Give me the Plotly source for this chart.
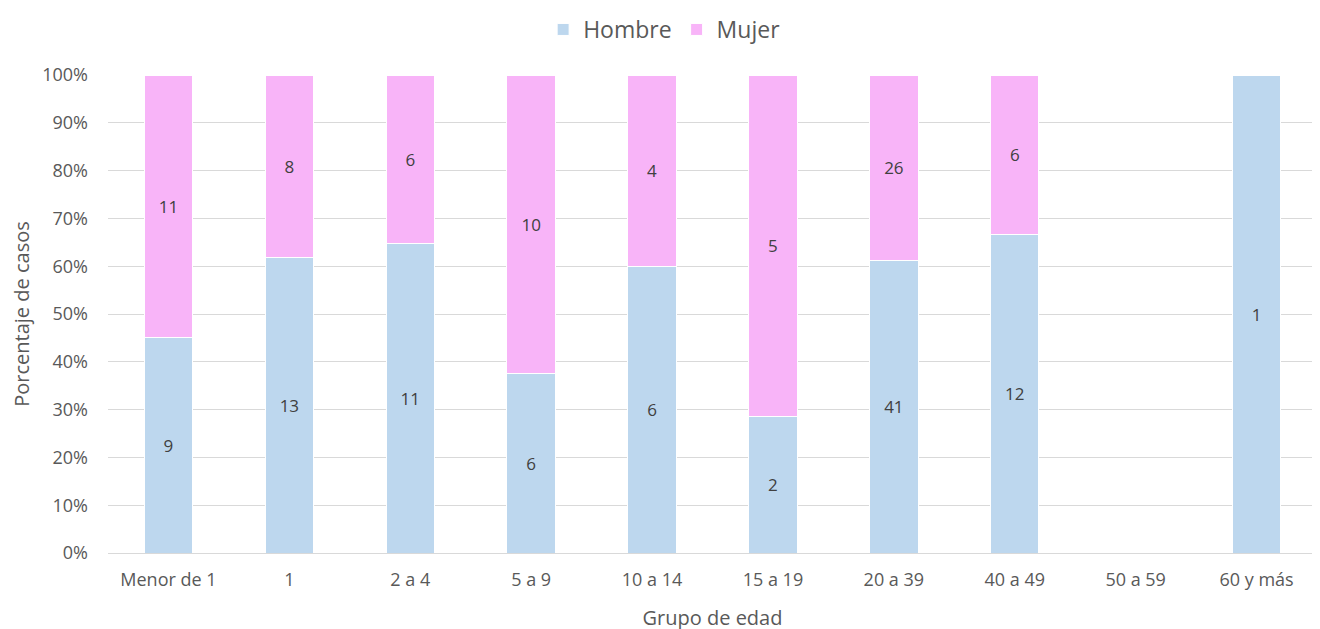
import plotly.graph_objects as go

grupos = ["Menor de 1", "1", "2 a 4", "5 a 9", "10 a 14", "15 a 19",
          "20 a 39", "40 a 49", "50 a 59", "60 y más"]
hombre = [9, 13, 11, 6, 6, 2, 41, 12, 0, 1]
mujer = [11, 8, 6, 10, 4, 5, 26, 6, 0, 0]

FONT = "Open Sans, Lato, sans-serif"
TXT = "#595959"


def labels(vals):
    return [str(v) if v else "" for v in vals]


fig = go.Figure()
for name, vals, color in [("Hombre", hombre, "#BDD7EE"), ("Mujer", mujer, "#F8B4F8")]:
    fig.add_trace(go.Bar(
        x=grupos, y=vals, name=name,
        marker=dict(color=color, line=dict(color="white", width=1)),
        text=labels(vals), textposition="inside", insidetextanchor="middle",
        textfont=dict(family=FONT, size=17, color="#404040"),
        textangle=0,
    ))

# the page puts the figure 8px in from the top-left corner
fig.update_layout(
    barmode="stack", barnorm="percent", bargap=0.6,
    width=1320, height=629,
    margin=dict(l=100, r=11, t=67, b=84),
    plot_bgcolor="white", paper_bgcolor="white",
    font=dict(family=FONT, color=TXT, size=18),
    uniformtext=dict(minsize=10, mode="show"),
    legend=dict(orientation="h", x=0.46, xanchor="center",
                yref="container", y=1.0, yanchor="top",
                font=dict(size=23, color=TXT), traceorder="normal",
                itemwidth=30),
)
fig.update_yaxes(range=[0, 100], dtick=10, ticksuffix="%", showgrid=True,
                 gridcolor="#D9D9D9", gridwidth=1, zeroline=False,
                 tickfont=dict(size=18), ticklabelstandoff=19, automargin=False,
                 title=dict(text="Porcentaje de casos", font=dict(size=20), standoff=12))
fig.update_xaxes(showline=True, linecolor="#D9D9D9", linewidth=1,
                 tickfont=dict(size=18), ticklabelstandoff=10, automargin=False,
                 title=dict(text="Grupo de edad", font=dict(size=20), standoff=21))

fig.write_html("out.html")
